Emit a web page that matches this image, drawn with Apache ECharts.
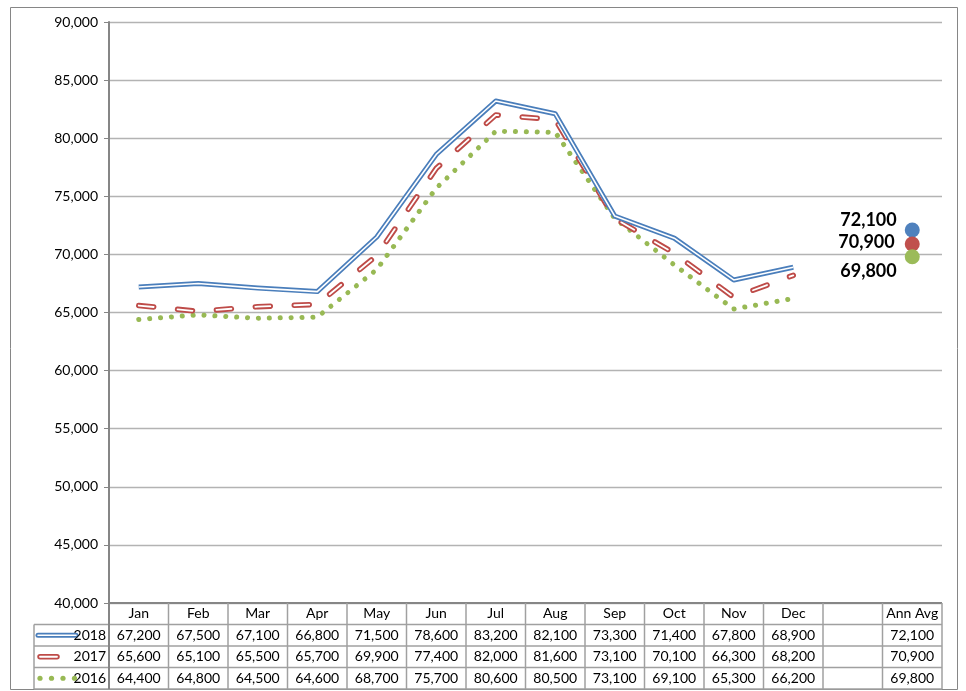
<!DOCTYPE html>
<html><head><meta charset="utf-8">
<script src="https://cdn.jsdelivr.net/npm/echarts@6/dist/echarts.min.js"></script>
<style>html,body{margin:0;padding:0;background:#fff}#c{width:966px;height:691px}</style>
</head><body><div id="c"></div>
<script>
const categories = ['Jan','Feb','Mar','Apr','May','Jun','Jul','Aug','Sep','Oct','Nov','Dec','','Ann Avg'];
const seriesNames = ['2018','2017','2016'];
const s2018 = [67200,67500,67100,66800,71500,78600,83200,82100,73300,71400,67800,68900];
const s2017 = [65600,65100,65500,65700,69900,77400,82000,81600,73100,70100,66300,68200];
const s2016 = [64400,64800,64500,64600,68700,75700,80600,80500,73100,69100,65300,66200];
const annAvg = [72100,70900,69800];
const yTicks = [40000,45000,50000,55000,60000,65000,70000,75000,80000,85000,90000];

const FONT = 'Lato';
const fmt = v => v.toLocaleString('en-US');
const BLUE = '#4A7EBB', RED = '#BE4B48', GREEN = '#98B954';
const GRID = '#B3B3B3', AXIS = '#868686';

const chart = echarts.init(document.getElementById('c'), null, {renderer:'canvas'});

const option = {
  animation:false,
  backgroundColor:'#fff',
  grid:{left:109, right:24, top:22, bottom:88, containLabel:false},
  xAxis:{
    type:'category', data:categories, boundaryGap:true,
    axisLine:{show:false}, axisTick:{show:false},
    axisLabel:{
      interval:0, margin:0, fontFamily:FONT, fontSize:14, color:'#000', lineHeight:21.5,
      formatter:(v, i) => {
        if (i < 12) return [v, fmt(s2018[i]), fmt(s2017[i]), fmt(s2016[i])].join('\n');
        if (i === 13) return [v, fmt(annAvg[0]), fmt(annAvg[1]), fmt(annAvg[2])].join('\n');
        return '';
      }
    },
    splitLine:{show:false}
  },
  yAxis:{
    type:'value', min:yTicks[0], max:yTicks[yTicks.length-1], interval:5000,
    axisLine:{show:true, lineStyle:{color:AXIS, width:2}},
    axisTick:{show:true, length:5, lineStyle:{color:AXIS}},
    axisLabel:{margin:11, fontFamily:FONT, fontSize:14, color:'#000', formatter:v=>fmt(v)},
    splitLine:{show:true, lineStyle:{color:GRID, width:1.3}}
  },
  series:[
    {name:'2016', type:'line', data:s2016, symbol:'none', z:2,
     lineStyle:{color:GREEN, width:5, type:[0.1,10.8], cap:'round'}},
    {name:'2017', type:'line', data:s2017, symbol:'none', z:3,
     lineStyle:{color:RED, width:5.5, type:[15,24], cap:'round', join:'round'}},
    {name:'2017w', type:'line', data:s2017, symbol:'none', z:4,
     lineStyle:{color:'#fff', width:1.8, type:[15,24], cap:'round', join:'round'}},
    {name:'2018', type:'line', data:s2018, symbol:'none', z:5,
     lineStyle:{color:BLUE, width:5, join:'round'}},
    {name:'2018w', type:'line', data:s2018, symbol:'none', z:6,
     lineStyle:{color:'#fff', width:1.6, join:'round'}},
    {name:'avg2018', type:'scatter', z:7, data:[['Ann Avg', annAvg[0]]], symbolSize:15, itemStyle:{color:'#4F81BD', opacity:1},
     label:{show:true, position:'left', distance:8, offset:[0,-10], formatter:p=>fmt(p.value[1]), fontFamily:FONT, fontWeight:'bold', fontSize:18, color:'#000'}},
    {name:'avg2017', type:'scatter', z:8, data:[['Ann Avg', annAvg[1]]], symbolSize:15, itemStyle:{color:'#C0504D', opacity:1},
     label:{show:true, position:'left', distance:8, offset:[0,-2], formatter:p=>fmt(p.value[1]), fontFamily:FONT, fontWeight:'bold', fontSize:18, color:'#000', backgroundColor:'#fff', padding:[1,2]}},
    {name:'avg2016', type:'scatter', z:9, data:[['Ann Avg', annAvg[2]]], symbolSize:15, itemStyle:{color:'#9BBB59', opacity:1},
     label:{show:true, position:'left', distance:8, offset:[0,14], formatter:p=>fmt(p.value[1]), fontFamily:FONT, fontWeight:'bold', fontSize:18, color:'#000'}}
  ]
};
chart.setOption(option);

// table lines + legend keys, positioned from the axes
const xs = categories.map((c,i)=>chart.convertToPixel({xAxisIndex:0}, i));
const colW = xs[1]-xs[0];
const tLeft = xs[0]-colW/2, tRight = xs[xs.length-1]+colW/2;
const yTop = chart.convertToPixel({yAxisIndex:0}, yTicks[0]);
const rowH = 21.5;
const keyLeft = 34;
const g = [];
const TL = '#A0A0A0';
g.push({type:'rect', shape:{x:10.5, y:7.5, width:947, height:682}, style:{fill:null, stroke:AXIS, lineWidth:1}, z:0});
g.push({type:'line', shape:{x1:tLeft, y1:yTop, x2:tRight, y2:yTop}, style:{stroke:AXIS, lineWidth:2}, z:10});
for (let r=1;r<=4;r++){
  const y = yTop + r*rowH;
  g.push({type:'line', shape:{x1:keyLeft, y1:y, x2:tRight, y2:y}, style:{stroke:TL, lineWidth:1.5}, z:10});
}
for (let i=0;i<=categories.length;i++){
  const x = tLeft + i*colW;
  g.push({type:'line', shape:{x1:x, y1:yTop, x2:x, y2:yTop+4*rowH}, style:{stroke:i===0?AXIS:TL, lineWidth:i===0?2:1.5}, z:10});
}
g.push({type:'line', shape:{x1:keyLeft, y1:yTop+rowH, x2:keyLeft, y2:yTop+4*rowH}, style:{stroke:TL, lineWidth:1.5}, z:10});
const ky = r => yTop + r*rowH + rowH/2;
g.push({type:'line', shape:{x1:38, y1:ky(1), x2:76, y2:ky(1)}, style:{stroke:BLUE, lineWidth:5, lineCap:'round'}, z:11});
g.push({type:'line', shape:{x1:38, y1:ky(1), x2:76, y2:ky(1)}, style:{stroke:'#fff', lineWidth:1.6, lineCap:'round'}, z:12});
g.push({type:'line', shape:{x1:40, y1:ky(2), x2:57, y2:ky(2)}, style:{stroke:RED, lineWidth:5.5, lineCap:'round'}, z:11});
g.push({type:'line', shape:{x1:40, y1:ky(2), x2:57, y2:ky(2)}, style:{stroke:'#fff', lineWidth:1.8, lineCap:'round'}, z:12});
[40,51.5,63,74.5].forEach(x=>g.push({type:'circle', shape:{cx:x, cy:ky(3), r:2.6}, style:{fill:GREEN}, z:11}));
seriesNames.forEach((n,k)=>g.push({type:'text', x:106, y:ky(k+1), style:{text:n, fontFamily:FONT, fontSize:14, fill:'#000', align:'right', verticalAlign:'middle'}, z:12}));
chart.setOption({graphic:g});
</script></body></html>
